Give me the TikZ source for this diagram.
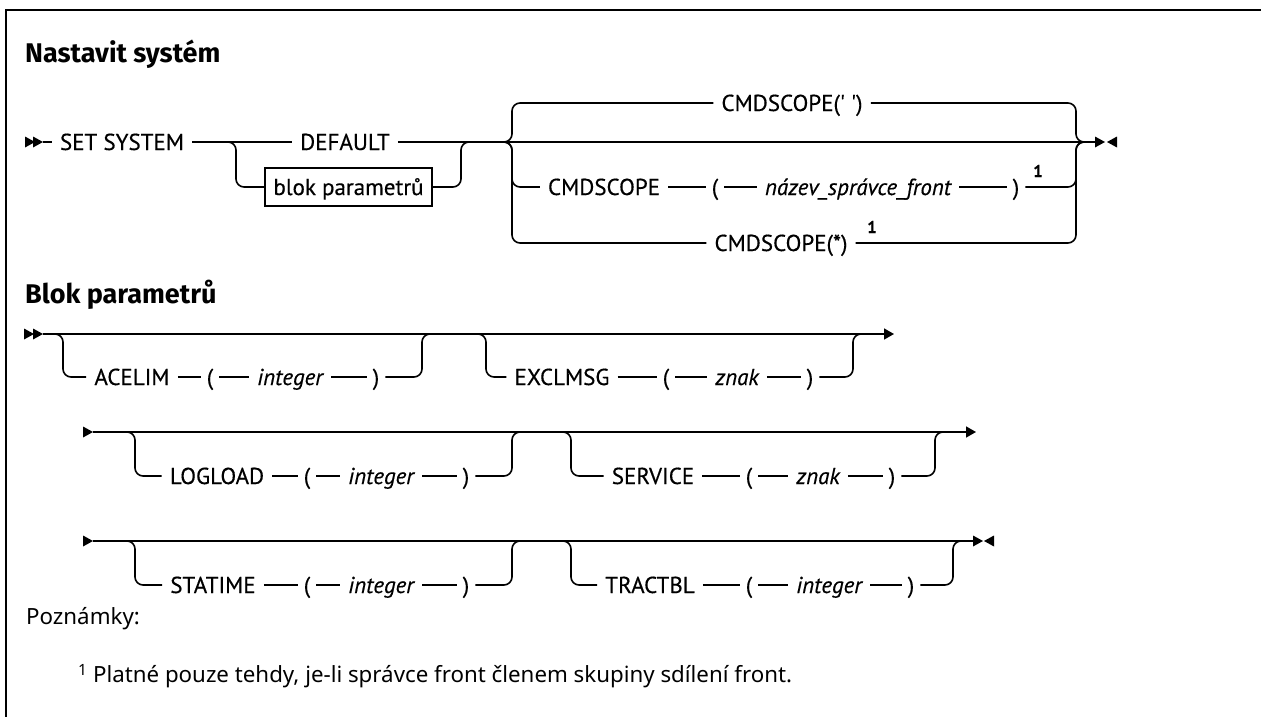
\documentclass[tikz,border=0pt]{standalone}
\usepackage{fontspec}
\setmainfont{Noto Sans}
\newfontfamily\headfont{Fira Sans}
\newfontfamily\diagfont{PT Sans}[FakeBold=0.4]
\usetikzlibrary{calc,arrows.meta}
\tikzset{
  ln/.style={line width=1.6pt},
  rc/.style={line width=1.6pt, rounded corners=8pt},
  tok/.style={font={\diagfont\fontsize{23}{26}\selectfont}, inner xsep=8pt, inner ysep=0pt, text height=16pt, text depth=0pt},
  var/.style={tok, font={\diagfont\itshape\fontsize{23}{26}\selectfont}},
  par/.style={tok, inner xsep=6pt},
  supnum/.style={font={\diagfont\bfseries\fontsize{17}{19}\selectfont}, inner sep=0pt},
  head/.style={font={\headfont\bfseries\fontsize{27}{30}\selectfont}, anchor=base west, inner sep=0pt},
  note/.style={font={\fontsize{22.3}{26}\selectfont}, anchor=base west, inner sep=0pt},
  blk/.style={draw, line width=1.6pt, font={\diagfont\fontsize{23}{26}\selectfont}, minimum width=167pt, minimum height=38pt, inner sep=0pt, text height=16pt, text depth=0pt},
  endarr/.style={-{Triangle[length=10pt,width=11pt]}, line width=1.6pt},
}
\newcommand\mytriR[1]{\fill (#1) ++(0,-5.5) -- ++(10,5.5) -- ++(-10,5.5) -- cycle;}
\newcommand\mytriL[1]{\fill (#1) ++(0,-5.5) -- ++(-10,5.5) -- ++(10,5.5) -- cycle;}
\begin{document}
\begin{tikzpicture}[x=1pt,y=-1pt]
\useasboundingbox (0,0) rectangle (1261,717);
\draw[line width=2.4pt] (6,717) -- (6,10) -- (1261,10);

\node[head] (h1) at (25,63) {Nastavit systém};

% ---------- Row A ----------
\coordinate (As) at (25,142); \mytriR{As}
\coordinate (As2) at (33,142); \mytriR{As2}
\coordinate (Aa) at (43,142);
\node[tok] (set) at (122,142) {SET SYSTEM};
\draw[ln] (Aa) -- (set.west);
\node[tok] (def) at (345,142) {DEFAULT};
\draw[ln] (set.east) -- (def.west);
\node[blk] (blk) at (348.5,187) {blok parametrů};
\coordinate (Ab1) at (224,142);
\draw[rc] (Ab1) -- (236,142) -- (236,187) -- (blk.west);
\coordinate (Aj1) at (472,142);
\draw[rc] (blk.east) -- (461,187) -- (461,142) -- (Aj1);
\coordinate (Aend) at (1095,142);
\draw[ln] (def.east) -- (Aend);
\mytriR{Aend}
\coordinate (Aend2) at (1117,142); \mytriL{Aend2}

\coordinate (Ag) at (500,142);
\coordinate (Aj2) at (1088,142);
\node[tok] (c1) at (792,103) {CMDSCOPE(\textquotesingle\ \textquotesingle)};
\draw[rc] (Ag) -- (512,142) -- (512,103) -- (c1.west);
\draw[rc] (c1.east) -- (1076,103) -- (1076,142) -- (Aj2);

\node[tok] (c2) at (604,187) {CMDSCOPE};
\node[par] (c2l) at (715,187) {(};
\node[var] (c2v) at (858,187) {název\_správce\_front};
\node[par] (c2r) at (1016,187) {)};
\node[supnum] (c2n) at (1038,171) {1};
\draw[rc] (Ag) -- (512,142) -- (512,187) -- (c2.west);
\draw[ln] (c2.east) -- (c2l.west);
\draw[ln] (c2l.east) -- (c2v.west);
\draw[ln] (c2v.east) -- (c2r.west);
\draw[rc] (c2r.east) -- (1076,187) -- (1076,142) -- (Aj2);

\node[tok] (c3) at (781,243) {CMDSCOPE(*)};
\node[supnum] (c3n) at (872,227) {1};
\draw[rc] (Ag) -- (512,142) -- (512,243) -- (c3.west);
\draw[rc] (c3.east) -- (1076,243) -- (1076,142) -- (Aj2);

\node[head] (h2) at (25,303) {Blok parametrů};

% ---------- Row 1 ----------
\coordinate (R1a) at (24,334); \mytriR{R1a}
\coordinate (R1b) at (33,334); \mytriR{R1b}
\coordinate (R1s) at (43,334);
\node[tok] (ace) at (132,377) {ACELIM};
\node[par] (acel) at (210,377) {(};
\node[var] (acev) at (290,377) {integer};
\node[par] (acer) at (376,377) {)};
\draw[rc] (R1s) -- (63,334) -- (63,377) -- (ace.west);
\draw[ln] (ace.east) -- (acel.west);
\draw[ln] (acel.east) -- (acev.west);
\draw[ln] (acev.east) -- (acer.west);
\coordinate (acej) at (433,334);
\draw[rc] (acer.east) -- (422,377) -- (422,334) -- (acej);

\coordinate (excs) at (474,334);
\node[tok] (exc) at (562,377) {EXCLMSG};
\node[par] (excl) at (666,377) {(};
\node[var] (excz) at (737,377) {znak};
\node[par] (excr) at (810,377) {)};
\draw[rc] (excs) -- (486,334) -- (486,377) -- (exc.west);
\draw[ln] (exc.east) -- (excl.west);
\draw[ln] (excl.east) -- (excz.west);
\draw[ln] (excz.east) -- (excr.west);
\coordinate (excj) at (862,334);
\draw[rc] (excr.east) -- (853,377) -- (853,334) -- (excj);
\coordinate (R1e) at (894,334);
\draw[endarr] (R1s) -- (R1e);

% ---------- Row 2 ----------
\coordinate (R2a) at (83,432); \mytriR{R2a}
\coordinate (R2s) at (93,432);
\node[tok] (log) at (217,476) {LOGLOAD};
\node[par] (logl) at (307,476) {(};
\node[var] (logv) at (381,476) {integer};
\node[par] (logr) at (466,476) {)};
\draw[rc] (R2s) -- (135,432) -- (135,476) -- (log.west);
\draw[ln] (log.east) -- (logl.west);
\draw[ln] (logl.east) -- (logv.west);
\draw[ln] (logv.east) -- (logr.west);
\coordinate (logj) at (521,432);
\draw[rc] (logr.east) -- (512,476) -- (512,432) -- (logj);

\coordinate (sers) at (559,432);
\node[tok] (ser) at (653,476) {SERVICE};
\node[par] (serl) at (749,476) {(};
\node[var] (serz) at (818,476) {znak};
\node[par] (serr) at (892,476) {)};
\draw[rc] (sers) -- (571,432) -- (571,476) -- (ser.west);
\draw[ln] (ser.east) -- (serl.west);
\draw[ln] (serl.east) -- (serz.west);
\draw[ln] (serz.east) -- (serr.west);
\coordinate (serj) at (944,432);
\draw[rc] (serr.east) -- (935,476) -- (935,432) -- (serj);
\coordinate (R2e) at (976,432);
\draw[endarr] (R2s) -- (R2e);

% ---------- Row 3 ----------
\coordinate (R3a) at (83,541); \mytriR{R3a}
\coordinate (R3s) at (93,541);
\node[tok] (sta) at (213,585) {STATIME};
\node[par] (stal) at (307,585) {(};
\node[var] (stav) at (381,585) {integer};
\node[par] (star) at (466,585) {)};
\draw[rc] (R3s) -- (135,541) -- (135,585) -- (sta.west);
\draw[ln] (sta.east) -- (stal.west);
\draw[ln] (stal.east) -- (stav.west);
\draw[ln] (stav.east) -- (star.west);
\coordinate (staj) at (521,541);
\draw[rc] (star.east) -- (512,585) -- (512,541) -- (staj);

\coordinate (tras) at (559,541);
\node[tok] (tra) at (650,585) {TRACTBL};
\node[par] (tral) at (749,585) {(};
\node[var] (trav) at (829,585) {integer};
\node[par] (trar) at (911,585) {)};
\draw[rc] (tras) -- (571,541) -- (571,585) -- (tra.west);
\draw[ln] (tra.east) -- (tral.west);
\draw[ln] (tral.east) -- (trav.west);
\draw[ln] (trav.east) -- (trar.west);
\coordinate (traj) at (962,541);
\draw[rc] (trar.east) -- (953,585) -- (953,541) -- (traj);
\coordinate (R3e) at (973,541);
\draw[ln] (R3s) -- (R3e);
\mytriR{R3e}
\coordinate (R3e2) at (994,541); \mytriL{R3e2}

% ---------- Notes ----------
\node[note] (pz) at (26,624) {Poznámky:};
\node[note] (fn) at (78,682) {\raisebox{7pt}{\fontsize{15.5}{15.5}\selectfont 1}\hspace{6pt}Platné pouze tehdy, je-li správce front členem skupiny sdílení front.};
\end{tikzpicture}
\end{document}
